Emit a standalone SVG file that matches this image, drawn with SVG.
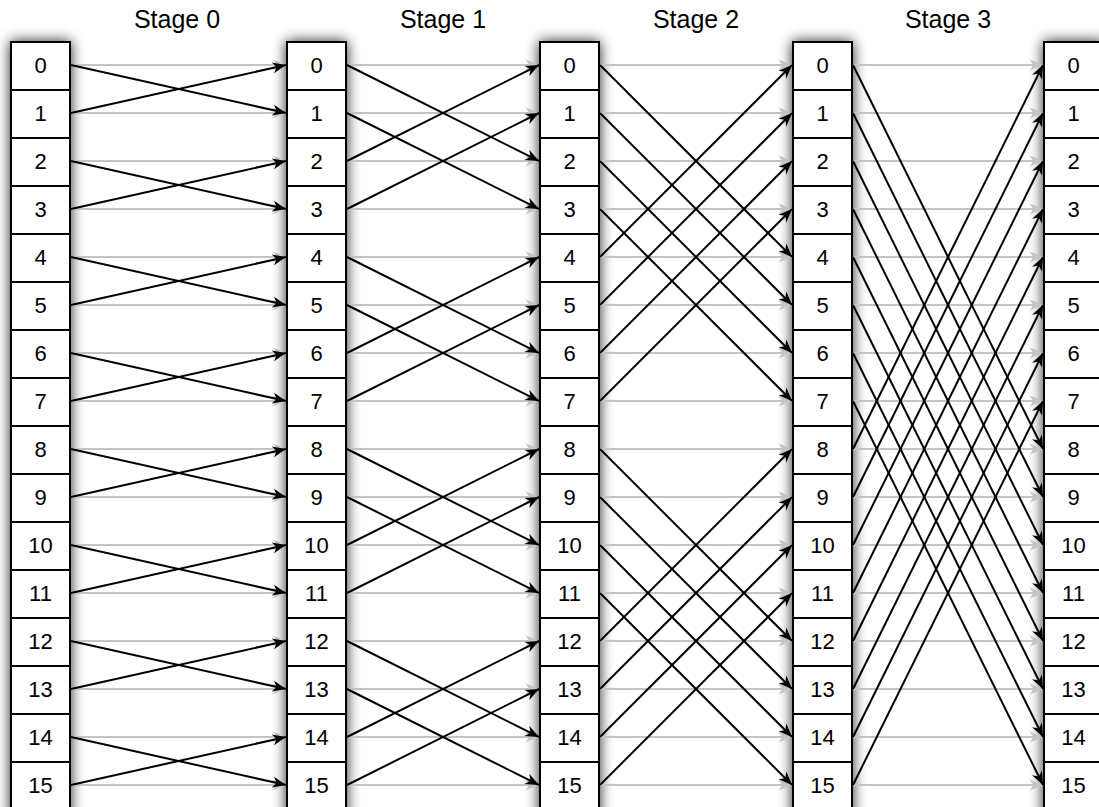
<svg xmlns="http://www.w3.org/2000/svg" width="1099" height="807" viewBox="0 0 1099 807">
<style>
.cell rect{fill:#fff;stroke:#000;stroke-width:2}
.cell text{font-family:"Liberation Sans",Arial,sans-serif;font-size:22px;text-anchor:middle;fill:#000}
.stage{font-family:"Liberation Sans",Arial,sans-serif;font-size:25px;text-anchor:middle;fill:#000}
.g line{stroke:#c4c4c4;stroke-width:2;marker-end:url(#ag)}
.b line{stroke:#000;stroke-width:2;marker-end:url(#ab)}
.shadow{fill:#000;opacity:0.85;filter:url(#sh)}
</style>
<defs>
<filter id="sh" x="-60%" y="-10%" width="220%" height="120%"><feGaussianBlur stdDeviation="7"/></filter>
<marker id="ab" markerUnits="userSpaceOnUse" markerWidth="16" markerHeight="14" viewBox="-15 -7 16 14" refX="0" refY="0" orient="auto"><path d="M0,0 L-13.5,-5.5 L-9.5,0 L-13.5,5.5 Z" fill="#000"/></marker>
<marker id="ag" markerUnits="userSpaceOnUse" markerWidth="16" markerHeight="14" viewBox="-15 -7 16 14" refX="0" refY="0" orient="auto"><path d="M0,0 L-13.5,-5.5 L-9.5,0 L-13.5,5.5 Z" fill="#c4c4c4"/></marker>
</defs>
<rect width="1099" height="807" fill="#fff"/>
<g id="labels">
<text class="stage" x="177" y="28">Stage 0</text>
<text class="stage" x="443" y="28">Stage 1</text>
<text class="stage" x="696" y="28">Stage 2</text>
<text class="stage" x="948" y="28">Stage 3</text>
</g>
<g id="shadows">
<rect class="shadow" x="10" y="41" width="61" height="780"/>
<rect class="shadow" x="286" y="41" width="61" height="780"/>
<rect class="shadow" x="539" y="41" width="61" height="780"/>
<rect class="shadow" x="792" y="41" width="61" height="780"/>
<rect class="shadow" x="1043" y="41" width="61" height="780"/>
</g>
<g id="connectors">
<g class="g">
<line x1="71" y1="65" x2="286" y2="65"/><line x1="71" y1="113" x2="286" y2="113"/><line x1="71" y1="161" x2="286" y2="161"/><line x1="71" y1="209" x2="286" y2="209"/><line x1="71" y1="257" x2="286" y2="257"/><line x1="71" y1="305" x2="286" y2="305"/><line x1="71" y1="353" x2="286" y2="353"/><line x1="71" y1="401" x2="286" y2="401"/><line x1="71" y1="449" x2="286" y2="449"/><line x1="71" y1="497" x2="286" y2="497"/><line x1="71" y1="545" x2="286" y2="545"/><line x1="71" y1="593" x2="286" y2="593"/><line x1="71" y1="641" x2="286" y2="641"/><line x1="71" y1="689" x2="286" y2="689"/><line x1="71" y1="737" x2="286" y2="737"/><line x1="71" y1="785" x2="286" y2="785"/>
<line x1="347" y1="65" x2="539" y2="65"/><line x1="347" y1="113" x2="539" y2="113"/><line x1="347" y1="161" x2="539" y2="161"/><line x1="347" y1="209" x2="539" y2="209"/><line x1="347" y1="257" x2="539" y2="257"/><line x1="347" y1="305" x2="539" y2="305"/><line x1="347" y1="353" x2="539" y2="353"/><line x1="347" y1="401" x2="539" y2="401"/><line x1="347" y1="449" x2="539" y2="449"/><line x1="347" y1="497" x2="539" y2="497"/><line x1="347" y1="545" x2="539" y2="545"/><line x1="347" y1="593" x2="539" y2="593"/><line x1="347" y1="641" x2="539" y2="641"/><line x1="347" y1="689" x2="539" y2="689"/><line x1="347" y1="737" x2="539" y2="737"/><line x1="347" y1="785" x2="539" y2="785"/>
<line x1="600" y1="65" x2="792" y2="65"/><line x1="600" y1="113" x2="792" y2="113"/><line x1="600" y1="161" x2="792" y2="161"/><line x1="600" y1="209" x2="792" y2="209"/><line x1="600" y1="257" x2="792" y2="257"/><line x1="600" y1="305" x2="792" y2="305"/><line x1="600" y1="353" x2="792" y2="353"/><line x1="600" y1="401" x2="792" y2="401"/><line x1="600" y1="449" x2="792" y2="449"/><line x1="600" y1="497" x2="792" y2="497"/><line x1="600" y1="545" x2="792" y2="545"/><line x1="600" y1="593" x2="792" y2="593"/><line x1="600" y1="641" x2="792" y2="641"/><line x1="600" y1="689" x2="792" y2="689"/><line x1="600" y1="737" x2="792" y2="737"/><line x1="600" y1="785" x2="792" y2="785"/>
<line x1="853" y1="65" x2="1043" y2="65"/><line x1="853" y1="113" x2="1043" y2="113"/><line x1="853" y1="161" x2="1043" y2="161"/><line x1="853" y1="209" x2="1043" y2="209"/><line x1="853" y1="257" x2="1043" y2="257"/><line x1="853" y1="305" x2="1043" y2="305"/><line x1="853" y1="353" x2="1043" y2="353"/><line x1="853" y1="401" x2="1043" y2="401"/><line x1="853" y1="449" x2="1043" y2="449"/><line x1="853" y1="497" x2="1043" y2="497"/><line x1="853" y1="545" x2="1043" y2="545"/><line x1="853" y1="593" x2="1043" y2="593"/><line x1="853" y1="641" x2="1043" y2="641"/><line x1="853" y1="689" x2="1043" y2="689"/><line x1="853" y1="737" x2="1043" y2="737"/><line x1="853" y1="785" x2="1043" y2="785"/>
</g>
<g class="b">
<line x1="71" y1="65" x2="286" y2="113"/><line x1="71" y1="113" x2="286" y2="65"/><line x1="71" y1="161" x2="286" y2="209"/><line x1="71" y1="209" x2="286" y2="161"/><line x1="71" y1="257" x2="286" y2="305"/><line x1="71" y1="305" x2="286" y2="257"/><line x1="71" y1="353" x2="286" y2="401"/><line x1="71" y1="401" x2="286" y2="353"/><line x1="71" y1="449" x2="286" y2="497"/><line x1="71" y1="497" x2="286" y2="449"/><line x1="71" y1="545" x2="286" y2="593"/><line x1="71" y1="593" x2="286" y2="545"/><line x1="71" y1="641" x2="286" y2="689"/><line x1="71" y1="689" x2="286" y2="641"/><line x1="71" y1="737" x2="286" y2="785"/><line x1="71" y1="785" x2="286" y2="737"/>
<line x1="347" y1="65" x2="539" y2="161"/><line x1="347" y1="113" x2="539" y2="209"/><line x1="347" y1="161" x2="539" y2="65"/><line x1="347" y1="209" x2="539" y2="113"/><line x1="347" y1="257" x2="539" y2="353"/><line x1="347" y1="305" x2="539" y2="401"/><line x1="347" y1="353" x2="539" y2="257"/><line x1="347" y1="401" x2="539" y2="305"/><line x1="347" y1="449" x2="539" y2="545"/><line x1="347" y1="497" x2="539" y2="593"/><line x1="347" y1="545" x2="539" y2="449"/><line x1="347" y1="593" x2="539" y2="497"/><line x1="347" y1="641" x2="539" y2="737"/><line x1="347" y1="689" x2="539" y2="785"/><line x1="347" y1="737" x2="539" y2="641"/><line x1="347" y1="785" x2="539" y2="689"/>
<line x1="600" y1="65" x2="792" y2="257"/><line x1="600" y1="113" x2="792" y2="305"/><line x1="600" y1="161" x2="792" y2="353"/><line x1="600" y1="209" x2="792" y2="401"/><line x1="600" y1="257" x2="792" y2="65"/><line x1="600" y1="305" x2="792" y2="113"/><line x1="600" y1="353" x2="792" y2="161"/><line x1="600" y1="401" x2="792" y2="209"/><line x1="600" y1="449" x2="792" y2="641"/><line x1="600" y1="497" x2="792" y2="689"/><line x1="600" y1="545" x2="792" y2="737"/><line x1="600" y1="593" x2="792" y2="785"/><line x1="600" y1="641" x2="792" y2="449"/><line x1="600" y1="689" x2="792" y2="497"/><line x1="600" y1="737" x2="792" y2="545"/><line x1="600" y1="785" x2="792" y2="593"/>
<line x1="853" y1="65" x2="1043" y2="449"/><line x1="853" y1="113" x2="1043" y2="497"/><line x1="853" y1="161" x2="1043" y2="545"/><line x1="853" y1="209" x2="1043" y2="593"/><line x1="853" y1="257" x2="1043" y2="641"/><line x1="853" y1="305" x2="1043" y2="689"/><line x1="853" y1="353" x2="1043" y2="737"/><line x1="853" y1="401" x2="1043" y2="785"/><line x1="853" y1="449" x2="1043" y2="65"/><line x1="853" y1="497" x2="1043" y2="113"/><line x1="853" y1="545" x2="1043" y2="161"/><line x1="853" y1="593" x2="1043" y2="209"/><line x1="853" y1="641" x2="1043" y2="257"/><line x1="853" y1="689" x2="1043" y2="305"/><line x1="853" y1="737" x2="1043" y2="353"/><line x1="853" y1="785" x2="1043" y2="401"/>
</g>
</g>
<g id="col0">
<g id="c0-0" class="cell"><rect x="11" y="42" width="59" height="48"/><text x="40.5" y="73">0</text></g>
<g id="c0-1" class="cell"><rect x="11" y="90" width="59" height="48"/><text x="40.5" y="121">1</text></g>
<g id="c0-2" class="cell"><rect x="11" y="138" width="59" height="48"/><text x="40.5" y="169">2</text></g>
<g id="c0-3" class="cell"><rect x="11" y="186" width="59" height="48"/><text x="40.5" y="217">3</text></g>
<g id="c0-4" class="cell"><rect x="11" y="234" width="59" height="48"/><text x="40.5" y="265">4</text></g>
<g id="c0-5" class="cell"><rect x="11" y="282" width="59" height="48"/><text x="40.5" y="313">5</text></g>
<g id="c0-6" class="cell"><rect x="11" y="330" width="59" height="48"/><text x="40.5" y="361">6</text></g>
<g id="c0-7" class="cell"><rect x="11" y="378" width="59" height="48"/><text x="40.5" y="409">7</text></g>
<g id="c0-8" class="cell"><rect x="11" y="426" width="59" height="48"/><text x="40.5" y="457">8</text></g>
<g id="c0-9" class="cell"><rect x="11" y="474" width="59" height="48"/><text x="40.5" y="505">9</text></g>
<g id="c0-10" class="cell"><rect x="11" y="522" width="59" height="48"/><text x="40.5" y="553">10</text></g>
<g id="c0-11" class="cell"><rect x="11" y="570" width="59" height="48"/><text x="40.5" y="601">11</text></g>
<g id="c0-12" class="cell"><rect x="11" y="618" width="59" height="48"/><text x="40.5" y="649">12</text></g>
<g id="c0-13" class="cell"><rect x="11" y="666" width="59" height="48"/><text x="40.5" y="697">13</text></g>
<g id="c0-14" class="cell"><rect x="11" y="714" width="59" height="48"/><text x="40.5" y="745">14</text></g>
<g id="c0-15" class="cell"><rect x="11" y="762" width="59" height="48"/><text x="40.5" y="793">15</text></g>
</g>
<g id="col1">
<g id="c1-0" class="cell"><rect x="287" y="42" width="59" height="48"/><text x="316.5" y="73">0</text></g>
<g id="c1-1" class="cell"><rect x="287" y="90" width="59" height="48"/><text x="316.5" y="121">1</text></g>
<g id="c1-2" class="cell"><rect x="287" y="138" width="59" height="48"/><text x="316.5" y="169">2</text></g>
<g id="c1-3" class="cell"><rect x="287" y="186" width="59" height="48"/><text x="316.5" y="217">3</text></g>
<g id="c1-4" class="cell"><rect x="287" y="234" width="59" height="48"/><text x="316.5" y="265">4</text></g>
<g id="c1-5" class="cell"><rect x="287" y="282" width="59" height="48"/><text x="316.5" y="313">5</text></g>
<g id="c1-6" class="cell"><rect x="287" y="330" width="59" height="48"/><text x="316.5" y="361">6</text></g>
<g id="c1-7" class="cell"><rect x="287" y="378" width="59" height="48"/><text x="316.5" y="409">7</text></g>
<g id="c1-8" class="cell"><rect x="287" y="426" width="59" height="48"/><text x="316.5" y="457">8</text></g>
<g id="c1-9" class="cell"><rect x="287" y="474" width="59" height="48"/><text x="316.5" y="505">9</text></g>
<g id="c1-10" class="cell"><rect x="287" y="522" width="59" height="48"/><text x="316.5" y="553">10</text></g>
<g id="c1-11" class="cell"><rect x="287" y="570" width="59" height="48"/><text x="316.5" y="601">11</text></g>
<g id="c1-12" class="cell"><rect x="287" y="618" width="59" height="48"/><text x="316.5" y="649">12</text></g>
<g id="c1-13" class="cell"><rect x="287" y="666" width="59" height="48"/><text x="316.5" y="697">13</text></g>
<g id="c1-14" class="cell"><rect x="287" y="714" width="59" height="48"/><text x="316.5" y="745">14</text></g>
<g id="c1-15" class="cell"><rect x="287" y="762" width="59" height="48"/><text x="316.5" y="793">15</text></g>
</g>
<g id="col2">
<g id="c2-0" class="cell"><rect x="540" y="42" width="59" height="48"/><text x="569.5" y="73">0</text></g>
<g id="c2-1" class="cell"><rect x="540" y="90" width="59" height="48"/><text x="569.5" y="121">1</text></g>
<g id="c2-2" class="cell"><rect x="540" y="138" width="59" height="48"/><text x="569.5" y="169">2</text></g>
<g id="c2-3" class="cell"><rect x="540" y="186" width="59" height="48"/><text x="569.5" y="217">3</text></g>
<g id="c2-4" class="cell"><rect x="540" y="234" width="59" height="48"/><text x="569.5" y="265">4</text></g>
<g id="c2-5" class="cell"><rect x="540" y="282" width="59" height="48"/><text x="569.5" y="313">5</text></g>
<g id="c2-6" class="cell"><rect x="540" y="330" width="59" height="48"/><text x="569.5" y="361">6</text></g>
<g id="c2-7" class="cell"><rect x="540" y="378" width="59" height="48"/><text x="569.5" y="409">7</text></g>
<g id="c2-8" class="cell"><rect x="540" y="426" width="59" height="48"/><text x="569.5" y="457">8</text></g>
<g id="c2-9" class="cell"><rect x="540" y="474" width="59" height="48"/><text x="569.5" y="505">9</text></g>
<g id="c2-10" class="cell"><rect x="540" y="522" width="59" height="48"/><text x="569.5" y="553">10</text></g>
<g id="c2-11" class="cell"><rect x="540" y="570" width="59" height="48"/><text x="569.5" y="601">11</text></g>
<g id="c2-12" class="cell"><rect x="540" y="618" width="59" height="48"/><text x="569.5" y="649">12</text></g>
<g id="c2-13" class="cell"><rect x="540" y="666" width="59" height="48"/><text x="569.5" y="697">13</text></g>
<g id="c2-14" class="cell"><rect x="540" y="714" width="59" height="48"/><text x="569.5" y="745">14</text></g>
<g id="c2-15" class="cell"><rect x="540" y="762" width="59" height="48"/><text x="569.5" y="793">15</text></g>
</g>
<g id="col3">
<g id="c3-0" class="cell"><rect x="793" y="42" width="59" height="48"/><text x="822.5" y="73">0</text></g>
<g id="c3-1" class="cell"><rect x="793" y="90" width="59" height="48"/><text x="822.5" y="121">1</text></g>
<g id="c3-2" class="cell"><rect x="793" y="138" width="59" height="48"/><text x="822.5" y="169">2</text></g>
<g id="c3-3" class="cell"><rect x="793" y="186" width="59" height="48"/><text x="822.5" y="217">3</text></g>
<g id="c3-4" class="cell"><rect x="793" y="234" width="59" height="48"/><text x="822.5" y="265">4</text></g>
<g id="c3-5" class="cell"><rect x="793" y="282" width="59" height="48"/><text x="822.5" y="313">5</text></g>
<g id="c3-6" class="cell"><rect x="793" y="330" width="59" height="48"/><text x="822.5" y="361">6</text></g>
<g id="c3-7" class="cell"><rect x="793" y="378" width="59" height="48"/><text x="822.5" y="409">7</text></g>
<g id="c3-8" class="cell"><rect x="793" y="426" width="59" height="48"/><text x="822.5" y="457">8</text></g>
<g id="c3-9" class="cell"><rect x="793" y="474" width="59" height="48"/><text x="822.5" y="505">9</text></g>
<g id="c3-10" class="cell"><rect x="793" y="522" width="59" height="48"/><text x="822.5" y="553">10</text></g>
<g id="c3-11" class="cell"><rect x="793" y="570" width="59" height="48"/><text x="822.5" y="601">11</text></g>
<g id="c3-12" class="cell"><rect x="793" y="618" width="59" height="48"/><text x="822.5" y="649">12</text></g>
<g id="c3-13" class="cell"><rect x="793" y="666" width="59" height="48"/><text x="822.5" y="697">13</text></g>
<g id="c3-14" class="cell"><rect x="793" y="714" width="59" height="48"/><text x="822.5" y="745">14</text></g>
<g id="c3-15" class="cell"><rect x="793" y="762" width="59" height="48"/><text x="822.5" y="793">15</text></g>
</g>
<g id="col4">
<g id="c4-0" class="cell"><rect x="1044" y="42" width="59" height="48"/><text x="1073.5" y="73">0</text></g>
<g id="c4-1" class="cell"><rect x="1044" y="90" width="59" height="48"/><text x="1073.5" y="121">1</text></g>
<g id="c4-2" class="cell"><rect x="1044" y="138" width="59" height="48"/><text x="1073.5" y="169">2</text></g>
<g id="c4-3" class="cell"><rect x="1044" y="186" width="59" height="48"/><text x="1073.5" y="217">3</text></g>
<g id="c4-4" class="cell"><rect x="1044" y="234" width="59" height="48"/><text x="1073.5" y="265">4</text></g>
<g id="c4-5" class="cell"><rect x="1044" y="282" width="59" height="48"/><text x="1073.5" y="313">5</text></g>
<g id="c4-6" class="cell"><rect x="1044" y="330" width="59" height="48"/><text x="1073.5" y="361">6</text></g>
<g id="c4-7" class="cell"><rect x="1044" y="378" width="59" height="48"/><text x="1073.5" y="409">7</text></g>
<g id="c4-8" class="cell"><rect x="1044" y="426" width="59" height="48"/><text x="1073.5" y="457">8</text></g>
<g id="c4-9" class="cell"><rect x="1044" y="474" width="59" height="48"/><text x="1073.5" y="505">9</text></g>
<g id="c4-10" class="cell"><rect x="1044" y="522" width="59" height="48"/><text x="1073.5" y="553">10</text></g>
<g id="c4-11" class="cell"><rect x="1044" y="570" width="59" height="48"/><text x="1073.5" y="601">11</text></g>
<g id="c4-12" class="cell"><rect x="1044" y="618" width="59" height="48"/><text x="1073.5" y="649">12</text></g>
<g id="c4-13" class="cell"><rect x="1044" y="666" width="59" height="48"/><text x="1073.5" y="697">13</text></g>
<g id="c4-14" class="cell"><rect x="1044" y="714" width="59" height="48"/><text x="1073.5" y="745">14</text></g>
<g id="c4-15" class="cell"><rect x="1044" y="762" width="59" height="48"/><text x="1073.5" y="793">15</text></g>
</g>
</svg>
